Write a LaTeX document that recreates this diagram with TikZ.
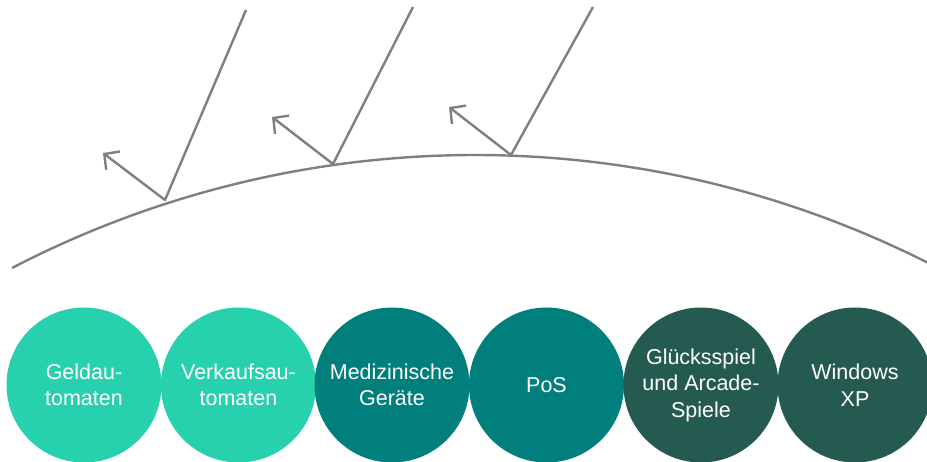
\documentclass[tikz,border=0pt]{standalone}
\usepackage{fontspec}
\setmainfont{Liberation Sans}
\usetikzlibrary{arrows.meta}
\definecolor{mint}{HTML}{27D1AE}
\definecolor{tealc}{HTML}{007F7C}
\definecolor{pine}{HTML}{255A51}
\definecolor{rayc}{HTML}{7F7F7F}
\tikzset{
  bubble/.style={circle, minimum size=155pt, inner sep=0pt, text=white, align=center,
    font=\fontsize{21.5}{26.5}\selectfont},
  ray/.style={draw=rayc, line width=2.4pt, line join=round,
    -{Straight Barb[length=11pt,width=23pt,line cap=butt]}},
  horizon/.style={draw=rayc, line width=2.4pt}
}
\begin{document}
\begin{tikzpicture}[x=1pt,y=1pt]
\useasboundingbox (0,0) rectangle (927,-462);
% horizon arc
\coordinate (arcstart) at (12,-268);
\draw[horizon] (arcstart) arc[start angle=117.43, end angle=63.0, radius=1005pt];
% rays
\coordinate (t1) at (246,-10);  \coordinate (v1) at (165,-200); \coordinate (p1) at (103,-153);
\coordinate (t2) at (413,-7);   \coordinate (v2) at (333,-164); \coordinate (p2) at (272,-117);
\coordinate (t3) at (593,-7);   \coordinate (v3) at (511,-155); \coordinate (p3) at (449,-107);
\draw[ray] (t1) -- (v1) -- (p1);
\draw[ray] (t2) -- (v2) -- (p2);
\draw[ray] (t3) -- (v3) -- (p3);
% circles
\node[bubble, fill=mint]  (c1) at (84,-385)  {Geldau-\\tomaten};
\node[bubble, fill=mint]  (c2) at (238.5,-385) {Verkaufsau-\\tomaten};
\node[bubble, fill=tealc] (c3) at (392,-385) {Medizinische\\Geräte};
\node[bubble, fill=tealc] (c4) at (546.5,-385) {PoS};
\node[bubble, fill=pine]  (c5) at (701,-385) {Glücksspiel\\und Arcade-\\Spiele};
\node[bubble, fill=pine]  (c6) at (855,-385) {Windows\\XP};
\end{tikzpicture}
\end{document}
